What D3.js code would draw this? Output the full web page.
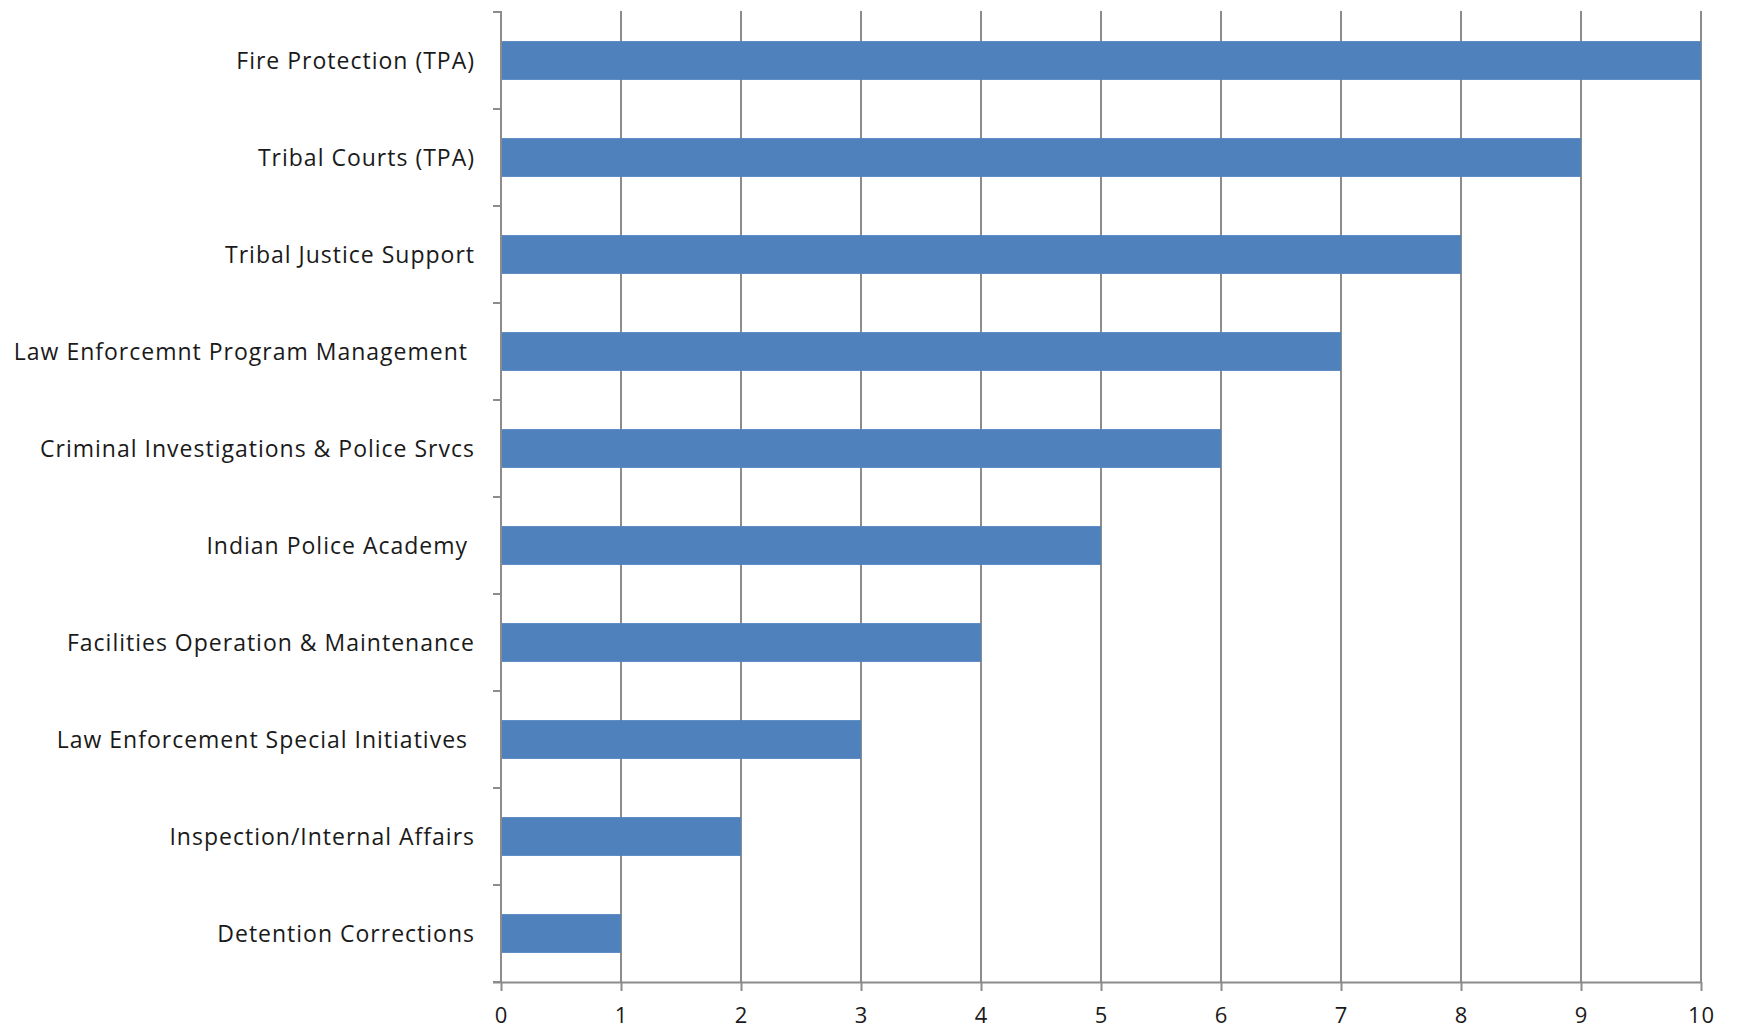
<!DOCTYPE html>
<html>
<head>
<meta charset="utf-8">
<script src="https://cdn.jsdelivr.net/npm/d3@7"></script>
<style>
  html, body { margin: 0; padding: 0; background: #fff; }
  svg { display: block; }
  text { white-space: pre; }
</style>
</head>
<body>
<svg id="chart" width="1737" height="1031"></svg>
<script>
const categories = [
  "Fire Protection (TPA)",
  "Tribal Courts (TPA)",
  "Tribal Justice Support",
  "Law Enforcemnt Program Management ",
  "Criminal Investigations & Police Srvcs",
  "Indian Police Academy ",
  "Facilities Operation & Maintenance",
  "Law Enforcement Special Initiatives ",
  "Inspection/Internal Affairs",
  "Detention Corrections"
];
const values = [10, 9, 8, 7, 6, 5, 4, 3, 2, 1];
const xTicks = [0, 1, 2, 3, 4, 5, 6, 7, 8, 9, 10];

(function () {
const svg = d3.select("#chart");
const pLeft = 501, pRight = 1701, pTop = 12, pBottom = 982;
const gridColor = "#8c8c8c";
const font = "'Open Sans', 'Noto Sans', sans-serif";

const x = d3.scaleLinear().domain([0, 10]).range([pLeft, pRight]);
const y = d3.scaleBand().domain(categories).range([pTop, pBottom])
  .paddingInner(0.6).paddingOuter(0.3);

// vertical gridlines
svg.append("g").selectAll("line").data(xTicks.filter(d => d > 0)).join("line")
  .attr("x1", d => x(d)).attr("x2", d => x(d))
  .attr("y1", pTop - 1).attr("y2", pBottom)
  .attr("stroke", gridColor).attr("stroke-width", 2);

// bars
svg.append("g").selectAll("rect").data(values).join("rect")
  .attr("x", x(0))
  .attr("y", (d, i) => y(categories[i]))
  .attr("width", d => x(d) - x(0))
  .attr("height", y.bandwidth())
  .attr("fill", "#4f81bd");

// bottom axis
const xAxis = d3.axisBottom(x).tickValues(xTicks).tickSize(9).tickPadding(16)
  .tickFormat(d3.format("d"));
const gx = svg.append("g").attr("transform", `translate(0,${pBottom})`).call(xAxis);
gx.select(".domain").attr("d", `M${pLeft - 8},0.5H${pRight}`).attr("stroke", gridColor).attr("stroke-width", 2);
gx.selectAll(".tick line").attr("stroke", gridColor).attr("stroke-width", 2);
gx.selectAll(".tick text").attr("font-family", font).attr("font-size", 22)
  .attr("letter-spacing", "1px").attr("fill", "#1a1a1a");

// left axis line and category boundary ticks
const step = y.step();
const boundaries = d3.range(categories.length + 1).map(i => pTop + i * step);
svg.append("line")
  .attr("x1", pLeft).attr("x2", pLeft).attr("y1", pTop - 1).attr("y2", pBottom)
  .attr("stroke", gridColor).attr("stroke-width", 2);
svg.append("g").selectAll("line").data(boundaries).join("line")
  .attr("x1", pLeft - 8).attr("x2", pLeft)
  .attr("y1", d => d).attr("y2", d => d)
  .attr("stroke", gridColor).attr("stroke-width", 2);

// category labels
svg.append("g").selectAll("text").data(categories).join("text")
  .attr("x", pLeft - 26)
  .attr("y", d => y(d) + y.bandwidth() / 2)
  .attr("dy", "0.35em")
  .attr("text-anchor", "end")
  .attr("font-family", font)
  .attr("font-size", 23)
  .attr("letter-spacing", "1px")
  .attr("fill", "#1a1a1a")
  .text(d => d);
})();
</script>
</body>
</html>
